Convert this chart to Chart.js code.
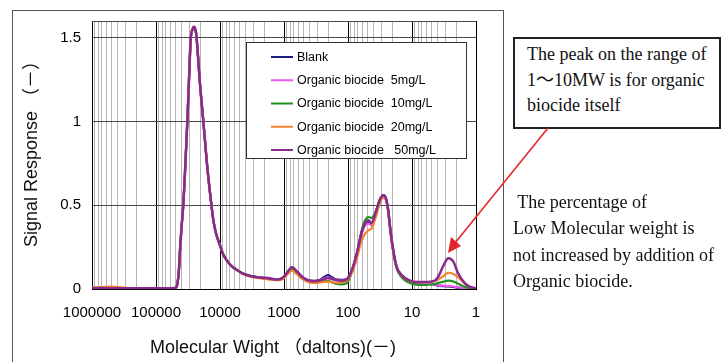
<!DOCTYPE html>
<html><head><meta charset="utf-8">
<script src="https://cdn.jsdelivr.net/npm/chart.js@4/dist/chart.umd.min.js"></script>
<style>
html,body{margin:0;padding:0;background:#fff;width:721px;height:362px;overflow:hidden;}
body{position:relative;}
#c{position:absolute;left:0;top:0;}
#frame{position:absolute;left:12px;top:10px;width:492px;height:400px;border:1.5px solid #555;box-sizing:border-box;pointer-events:none;}
.note{position:absolute;font-family:"Liberation Serif","Times New Roman","Noto Sans CJK JP",serif;font-size:18px;color:#111;white-space:pre;}
#note1{left:513px;top:37px;width:208px;height:92px;border:2px solid #222;box-sizing:border-box;padding:3px 0 0 12px;line-height:25.5px;background:#fff;}
#note2{left:513px;top:189px;line-height:26.3px;}
#arrow{position:absolute;left:0;top:0;}
</style>
</head><body>
<canvas id="c" width="721" height="362"></canvas>
<div id="frame"></div>
<div class="note" id="note1">The peak on the range of
1～10MW is for organic
biocide itself</div>
<div class="note" id="note2"> The percentage of
Low Molecular weight is
not increased by addition of
Organic biocide.</div>
<svg id="arrow" width="721" height="362">
  <line x1="548" y1="128" x2="455" y2="243" stroke="#e3262b" stroke-width="1.6"/>
  <polygon points="448,253 461,246 451,237" fill="#e3262b"/>
</svg>
<script>
// ---- data ----
const mw = [1000000, 520000, 250000, 125000, 72000, 50000, 47000, 43700, 42200, 39300, 37200, 35200, 32400, 30500, 28700, 26900, 25200, 23700, 23100, 20500, 18200, 16000, 13800, 12700, 11500, 10200, 9000, 7800, 6500, 5400, 4400, 3400, 2600, 2100, 1780, 1490, 1240, 1040, 900, 750, 630, 520, 420, 330, 270, 240, 205, 178, 149, 124, 104, 87, 73, 61, 54, 48, 43, 36, 32, 28, 25.5, 23.5, 22, 19.6, 17.3, 14.5, 11.4, 9, 6.3, 4.4, 3.9, 3.2, 2.7, 2.26, 1.9, 1.5, 1.24, 1];

const blank = [0.006, 0.005, 0.004, 0.004, 0.004, 0.006, 0.02, 0.12, 0.23, 0.40, 0.52, 0.70, 1.00, 1.25, 1.49, 1.55, 1.56, 1.53, 1.49, 1.22, 1.00, 0.75, 0.52, 0.41, 0.33, 0.27, 0.21, 0.17, 0.135, 0.113, 0.092, 0.078, 0.07, 0.066, 0.064, 0.058, 0.056, 0.068, 0.095, 0.13, 0.105, 0.072, 0.052, 0.048, 0.055, 0.07, 0.083, 0.07, 0.056, 0.055, 0.06, 0.113, 0.21, 0.34, 0.40, 0.40, 0.385, 0.47, 0.53, 0.56, 0.54, 0.47, 0.37, 0.23, 0.13, 0.083, 0.05, 0.04, 0.035, 0.026, 0.02, 0.017, 0.015, 0.012, 0.008, 0.004, 0.002, 0.001];

const bio5 = [0.006, 0.005, 0.004, 0.004, 0.004, 0.006, 0.02, 0.12, 0.23, 0.40, 0.52, 0.70, 1.00, 1.25, 1.49, 1.55, 1.56, 1.53, 1.49, 1.22, 1.00, 0.75, 0.52, 0.41, 0.33, 0.27, 0.21, 0.17, 0.135, 0.113, 0.092, 0.078, 0.07, 0.068, 0.068, 0.062, 0.056, 0.066, 0.092, 0.125, 0.1, 0.07, 0.05, 0.045, 0.05, 0.062, 0.07, 0.063, 0.052, 0.05, 0.058, 0.11, 0.21, 0.33, 0.38, 0.39, 0.38, 0.46, 0.525, 0.555, 0.535, 0.465, 0.365, 0.225, 0.125, 0.08, 0.05, 0.04, 0.035, 0.028, 0.022, 0.02, 0.018, 0.015, 0.01, 0.005, 0.003, 0.002];

const bio10 = [0.006, 0.005, 0.004, 0.004, 0.004, 0.006, 0.02, 0.12, 0.23, 0.40, 0.52, 0.70, 1.00, 1.25, 1.49, 1.55, 1.56, 1.53, 1.49, 1.22, 1.00, 0.75, 0.52, 0.41, 0.33, 0.27, 0.21, 0.17, 0.135, 0.113, 0.092, 0.078, 0.07, 0.066, 0.063, 0.057, 0.054, 0.062, 0.088, 0.12, 0.095, 0.065, 0.045, 0.04, 0.042, 0.045, 0.048, 0.04, 0.03, 0.028, 0.035, 0.10, 0.21, 0.35, 0.41, 0.43, 0.425, 0.47, 0.53, 0.555, 0.535, 0.46, 0.36, 0.22, 0.12, 0.07, 0.04, 0.028, 0.024, 0.03, 0.036, 0.044, 0.05, 0.045, 0.032, 0.013, 0.005, 0.003];

const bio20 = [0.008, 0.014, 0.005, 0.004, 0.004, 0.006, 0.02, 0.12, 0.23, 0.40, 0.52, 0.70, 1.00, 1.25, 1.49, 1.55, 1.565, 1.53, 1.49, 1.22, 1.00, 0.75, 0.52, 0.41, 0.33, 0.27, 0.21, 0.17, 0.135, 0.113, 0.09, 0.075, 0.066, 0.062, 0.058, 0.055, 0.052, 0.06, 0.085, 0.11, 0.088, 0.06, 0.042, 0.036, 0.04, 0.042, 0.044, 0.04, 0.036, 0.04, 0.05, 0.095, 0.18, 0.29, 0.33, 0.35, 0.36, 0.44, 0.51, 0.545, 0.53, 0.46, 0.36, 0.22, 0.125, 0.08, 0.052, 0.042, 0.04, 0.048, 0.056, 0.078, 0.097, 0.09, 0.07, 0.032, 0.013, 0.005];

const bio50 = [0.006, 0.005, 0.004, 0.004, 0.004, 0.006, 0.02, 0.12, 0.23, 0.40, 0.52, 0.70, 1.00, 1.25, 1.49, 1.55, 1.565, 1.53, 1.49, 1.22, 1.00, 0.75, 0.52, 0.41, 0.33, 0.27, 0.21, 0.17, 0.135, 0.113, 0.092, 0.078, 0.07, 0.066, 0.064, 0.058, 0.056, 0.068, 0.095, 0.13, 0.105, 0.072, 0.052, 0.047, 0.052, 0.058, 0.066, 0.06, 0.052, 0.05, 0.058, 0.113, 0.21, 0.34, 0.39, 0.41, 0.395, 0.47, 0.53, 0.56, 0.54, 0.47, 0.37, 0.23, 0.13, 0.083, 0.054, 0.042, 0.042, 0.05, 0.073, 0.143, 0.183, 0.163, 0.093, 0.035, 0.012, 0.005];

const seriesLabels = ['Blank', 'Organic biocide  5mg/L', 'Organic biocide  10mg/L', 'Organic biocide  20mg/L', 'Organic biocide   50mg/L'];
const seriesValues = [blank, bio5, bio10, bio20, bio50];
const seriesColors = ['#1c1c86', '#ee5aee', '#1f901f', '#f7832c', '#8a2a8e'];

const xTickValues = [1, 10, 100, 1000, 10000, 100000, 1000000];
const xTickLabels = ['1', '10', '100', '1000', '10000', '100000', '1000000'];
const yTickValues = [0, 0.5, 1, 1.5];
const yTickLabels = ['0', '0.5', '1', '1.5'];
const xTitle = 'Molecular Wight （daltons)(－)';
const yTitle = 'Signal Response （－）';

// ---- chart ----
const FAM = '"Liberation Sans", Arial, "Noto Sans CJK JP", sans-serif';
const minorMult = [2, 3, 4, 5, 6, 7, 8, 9];
const allXTicks = [];
xTickValues.forEach((d, i) => {
  allXTicks.push(d);
  if (i < xTickValues.length - 1) minorMult.forEach(m => allXTicks.push(m * d));
});
const isDecade = v => xTickValues.indexOf(v) >= 0;

const nSeries = seriesValues.length;
const datasets = seriesValues.map((vals, i) => ({
  label: seriesLabels[i],
  data: mw.map((x, j) => ({ x: x, y: vals[j] })),
  borderColor: seriesColors[i],
  backgroundColor: seriesColors[i],
  borderWidth: i === nSeries - 1 ? 2.5 : 2.2,
  pointRadius: 0,
  fill: false,
  order: nSeries - 1 - i,
  cubicInterpolationMode: 'monotone'
}));

const decorPlugin = {
  id: 'decor',
  beforeDatasetsDraw(chart) {
    const { ctx, chartArea: a } = chart;
    ctx.save();
    ctx.strokeStyle = '#4a4a4a';
    ctx.lineWidth = 1;
    ctx.beginPath();
    ctx.moveTo(a.left, a.top + 0.5);
    ctx.lineTo(a.right, a.top + 0.5);
    ctx.stroke();
    ctx.restore();
  },
  afterDraw(chart) {
    const { ctx } = chart;
    ctx.save();
    // legend box
    ctx.fillStyle = '#fff';
    ctx.fillRect(246, 42, 220, 116);
    ctx.strokeStyle = '#333';
    ctx.lineWidth = 1;
    ctx.strokeRect(246.5, 42.5, 220, 116);
    ctx.font = '12.5px ' + FAM;
    ctx.textBaseline = 'middle';
    ctx.textAlign = 'left';
    chart.data.datasets.forEach((ds, i) => {
      const y = 57 + i * 23.25;
      ctx.strokeStyle = ds.borderColor;
      ctx.lineWidth = 2;
      ctx.beginPath();
      ctx.moveTo(271, y);
      ctx.lineTo(293, y);
      ctx.stroke();
      ctx.fillStyle = '#000';
      ctx.fillText(ds.label, 297, y + 0.5);
    });
    // axis titles
    ctx.fillStyle = '#111';
    ctx.font = '18px ' + FAM;
    ctx.textBaseline = 'middle';
    ctx.textAlign = 'left';
    ctx.fillText(xTitle, 150, 348);
    ctx.translate(32, 247);
    ctx.rotate(-Math.PI / 2);
    ctx.fillText(yTitle, 0, 0);
    ctx.restore();
  }
};

new Chart(document.getElementById('c'), {
  type: 'line',
  data: { datasets: datasets },
  options: {
    responsive: false,
    animation: false,
    parsing: true,
    layout: { padding: { left: 12, right: 245, top: 21, bottom: 0 } },
    plugins: { legend: { display: false }, tooltip: { enabled: false }, title: { display: false } },
    scales: {
      x: {
        type: 'logarithmic',
        min: 1,
        max: 1000000,
        reverse: true,
        afterBuildTicks(s) { s.ticks = allXTicks.map(v => ({ value: v })); },
        afterFit(s) { s.height = 73; },
        grid: {
          color: c => (c.tick && isDecade(c.tick.value)) ? '#000' : '#b5b5b5',
          lineWidth: 1,
          drawTicks: false
        },
        border: { color: '#000', width: 1 },
        ticks: {
          autoSkip: false,
          maxRotation: 0,
          padding: 15,
          color: '#000',
          font: { size: 15, family: FAM },
          callback: v => { const i = xTickValues.indexOf(v); return i >= 0 ? xTickLabels[i] : ''; }
        }
      },
      y: {
        min: 0,
        max: 1.6,
        afterBuildTicks(s) { s.ticks = yTickValues.map(v => ({ value: v })); },
        afterFit(s) { s.width = 80; },
        grid: { color: '#4a4a4a', lineWidth: 1, drawTicks: false },
        border: { color: '#000', width: 1 },
        ticks: {
          padding: 11,
          color: '#000',
          font: { size: 15, family: FAM },
          callback: v => { const i = yTickValues.indexOf(v); return i >= 0 ? yTickLabels[i] : ''; }
        }
      }
    }
  },
  plugins: [decorPlugin]
});
</script>
</body></html>
